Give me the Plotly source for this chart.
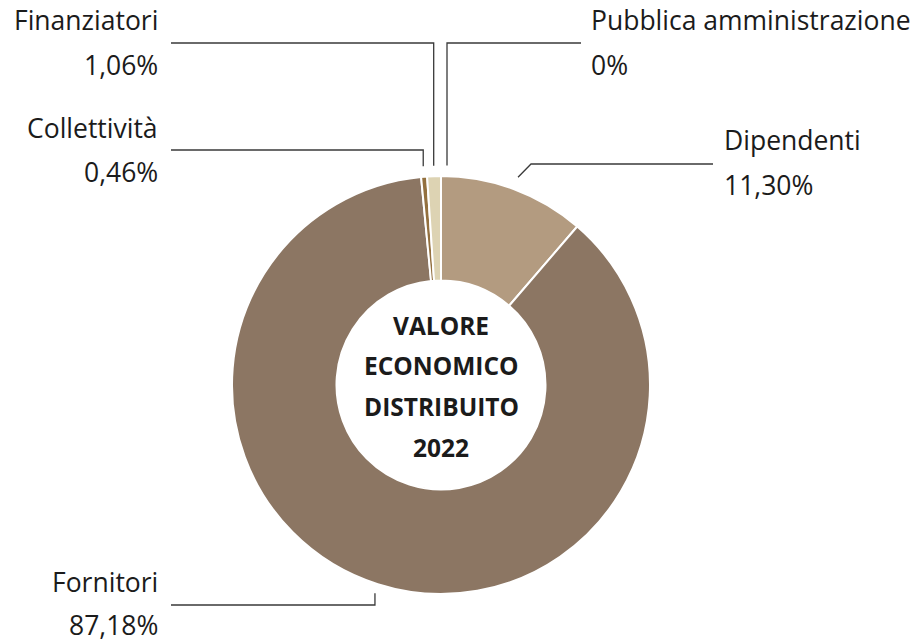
import math
import plotly.graph_objects as go

# ---- data ----
categories = ["Pubblica amministrazione", "Dipendenti", "Fornitori", "Collettività", "Finanziatori"]
values = [0.0, 11.30, 87.18, 0.46, 1.06]
value_labels = ["0%", "11,30%", "87,18%", "0,46%", "1,06%"]
colors = ["#c9b99a", "#b39b80", "#8c7663", "#93703f", "#ddd3b3"]
center_lines = ["VALORE", "ECONOMICO", "DISTRIBUITO", "2022"]

W, H = 916, 644
CX, CY, R = 441, 385, 209
FONT = "Open Sans"
TXT = "#1b1b1b"
LINE = "#3a3a3a"

fig = go.Figure()
fig.add_trace(go.Pie(
    labels=categories, values=values, sort=False, direction="clockwise", rotation=0,
    hole=0.5, textinfo="none", hoverinfo="label+percent",
    marker=dict(colors=colors, line=dict(color="white", width=2)),
    domain=dict(x=[(CX - R) / W, (CX + R) / W], y=[(H - CY - R) / H, (H - CY + R) / H]),
    showlegend=False,
))

# slice mid angles (degrees clockwise from 12 o'clock)
total = sum(values)
mids = []
cum = 0.0
for v in values:
    mids.append((cum + v / 2) / total * 360)
    cum += v

def pt(angle, r):
    a = math.radians(angle)
    return CX + r * math.sin(a), CY - r * math.cos(a)

r_out = R * 1.05
lines = {}
x, y = pt(mids[4], r_out)
lines[4] = ([x, x, 171], [y, 43, 43])
x, y = pt(mids[3], r_out)
lines[3] = ([x, x, 171], [y, 150, 150])
x, y = pt(mids[0], r_out)
x += 6
lines[0] = ([x, x, 581], [y, 43, 43])
x, y = pt(mids[1], R * 1.06)
lines[1] = ([x, x + 13, 713], [y, 164, 164])
x, y = pt(mids[2], R * 1.045)
lines[2] = ([x, x, 171], [y, 605, 605])

for k, (xs, ys) in lines.items():
    fig.add_trace(go.Scatter(x=xs, y=ys, mode="lines", line=dict(color=LINE, width=1.3),
                             hoverinfo="skip", showlegend=False))

label_pos = [
    (4, 160, "right", 20, 65),
    (3, 160, "right", 128, 172),
    (0, 589, "left", 20, 65),
    (1, 722, "left", 140, 185),
    (2, 160, "right", 582, 625),
]
for idx, lx, anc, ny, vy in label_pos:
    for text, ty in ((categories[idx], ny), (value_labels[idx], vy)):
        fig.add_annotation(x=lx / W, y=1 - ty / H, xref="paper", yref="paper",
                           text=text, showarrow=False, xanchor=anc, yanchor="middle",
                           font=dict(family=FONT, size=26.5, color=TXT))

for i, t in enumerate(center_lines):
    fig.add_annotation(x=CX / W, y=1 - (325 + i * 40.7) / H, xref="paper", yref="paper",
                       text="<b>" + t + "</b>", showarrow=False, xanchor="center", yanchor="middle",
                       font=dict(family=FONT, size=24.5, color=TXT))

fig.update_layout(
    width=W, height=H, margin=dict(l=0, r=0, t=0, b=0),
    paper_bgcolor="white", plot_bgcolor="rgba(0,0,0,0)",
    xaxis=dict(range=[0, W], visible=False, fixedrange=True),
    yaxis=dict(range=[H, 0], visible=False, fixedrange=True),
)
fig.write_html("out.html", config={"displayModeBar": False},
               post_script="document.body.style.margin='0';document.body.style.overflow='hidden';")
